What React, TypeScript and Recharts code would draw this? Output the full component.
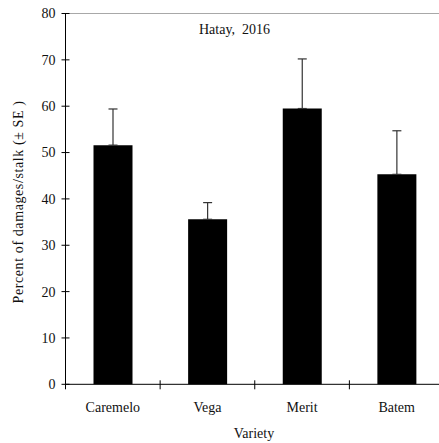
import { BarChart, Bar, XAxis, YAxis, ErrorBar, ReferenceLine } from 'recharts';

// Hatay 2016 damage by variety
const varieties = ['Caremelo', 'Vega', 'Merit', 'Batem'];
const damageMeans = [51.6, 35.6, 59.5, 45.3];
const damageSE = [7.8, 3.6, 10.7, 9.4];
const yTicks = [0, 10, 20, 30, 40, 50, 60, 70, 80];

const data = varieties.map((variety, i) => ({
  variety,
  mean: damageMeans[i],
  err: [0, damageSE[i]],
}));

const FONT = '"Liberation Serif", "Times New Roman", serif';
const INK = '#111';

const YTick = (props: any) => {
  const { x, y, payload } = props;
  return (
    <g>
      <line x1={x - 4} x2={x + 4} y1={y} y2={y} stroke="#000" />
      <text x={x - 10} y={y} dy="0.35em" textAnchor="end" fontFamily={FONT} fontSize={14} fill={INK}>
        {payload.value}
      </text>
    </g>
  );
};

const XTick = (props: any) => {
  const { x, y, payload } = props;
  const half = payload.offset ?? 47.3;
  return (
    <g>
      <line x1={x - half} x2={x - half} y1={y - 4} y2={y + 5} stroke="#000" />
      <text x={x} y={y + 28} textAnchor="middle" fontFamily={FONT} fontSize={14} fill={INK}>
        {payload.value}
      </text>
    </g>
  );
};

export default function App() {
  return (
    <div style={{ position: 'absolute', left: 0, top: 0, width: 439, height: 443, overflow: 'hidden', background: '#fff' }}>
      <BarChart
        width={446}
        height={443}
        data={data}
        margin={{ top: 13.5, right: 2, left: 64.5, bottom: 57.7 }}
      >
        <ReferenceLine
          y={80}
          stroke="#a8a8a8"
          label={{
            content: (p: any) => (
              <text x={234.5} y={(p.viewBox?.y ?? 13.5) + 20} textAnchor="middle" fontFamily={FONT} fontSize={14} fill={INK}>
                {'Hatay,\u00a0 2016'}
              </text>
            ),
          }}
        />
        <XAxis
          dataKey="variety"
          height={1}
          tickSize={0}
          tickMargin={0}
          tickLine={false}
          axisLine={{ stroke: '#000' }}
          tick={<XTick />}
          interval={0}
          label={{
            content: () => (
              <text x={254} y={438} textAnchor="middle" fontFamily={FONT} fontSize={14} fill={INK}>
                Variety
              </text>
            ),
          }}
        />
        <YAxis
          width={1}
          domain={[0, 80]}
          ticks={yTicks}
          tickSize={0}
          tickMargin={0}
          tickLine={false}
          axisLine={{ stroke: '#000' }}
          tick={<YTick />}
          interval={0}
          label={{
            content: () => (
              <text
                x={23}
                y={202}
                transform="rotate(-90 23 202)"
                textAnchor="middle"
                fontFamily={FONT}
                fontSize={14}
                letterSpacing={0.6}
                fill={INK}
              >
                Percent of damages/stalk (± SE )
              </text>
            ),
          }}
        />
        <Bar dataKey="mean" fill="#000" barSize={39} isAnimationActive={false}>
          <ErrorBar dataKey="err" width={4.5} stroke="#333" strokeWidth={1.2} direction="y" />
        </Bar>
      </BarChart>
    </div>
  );
}
